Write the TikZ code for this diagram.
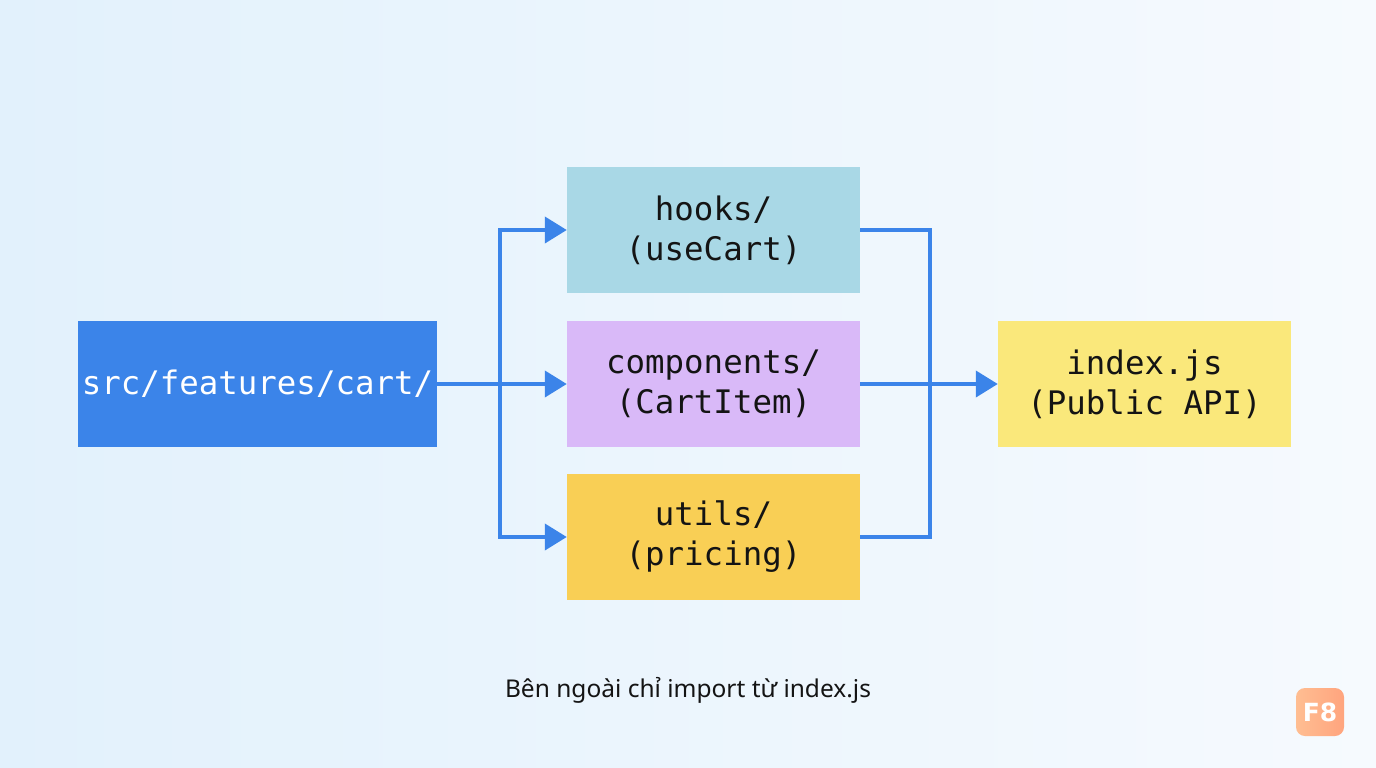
\documentclass[tikz,border=0pt]{standalone}
\usepackage{fontspec}
\setmainfont{Noto Sans}
\newfontfamily\codefont{DejaVu Sans Mono}
\newfontfamily\logofont{DejaVu Sans}
\usetikzlibrary{arrows.meta}
\definecolor{bgleft}{HTML}{E2F1FC}
\definecolor{bgright}{HTML}{F6FAFE}
\definecolor{srcblue}{HTML}{3B84E9}
\definecolor{hookblue}{HTML}{A9D8E6}
\definecolor{complav}{HTML}{D9B9F8}
\definecolor{utilyel}{HTML}{F9CF55}
\definecolor{idxyel}{HTML}{FAE87B}
\definecolor{linkblue}{HTML}{3B84E9}
\definecolor{textdark}{HTML}{141414}
\definecolor{logoA}{HTML}{FFBE92}
\definecolor{logoB}{HTML}{FFA47E}
\tikzset{
  box/.style={minimum width=293pt, minimum height=126pt, inner sep=0pt, align=center,
    font=\codefont\fontsize{32.4}{40}\selectfont, text=textdark},
  link/.style={draw=linkblue, line width=4pt},
  arr/.style={link, -{Triangle[length=22pt,width=26pt]}},
}
\begin{document}
\begin{tikzpicture}[x=1pt,y=-1pt]
\useasboundingbox (0,0) rectangle (1376,768);
\shade[left color=bgleft, right color=bgright] (0,0) rectangle (1376,768);
% nodes
\node[box, fill=srcblue, text=white, minimum width=359pt] (src) at (257.5,384) {src/features/cart/};
\node[box, fill=hookblue] (hooks) at (713.5,230) {hooks/\\(useCart)};
\node[box, fill=complav] (comp) at (713.5,384) {components/\\(CartItem)};
\node[box, fill=utilyel] (utils) at (713.5,537) {utils/\\(pricing)};
\node[box, fill=idxyel] (idx) at (1144.5,384) {index.js\\(Public API)};
\coordinate (splitL) at (500,384);
\coordinate (joinR) at (930,384);
% connectors
\draw[arr] (src.east) -- (comp.west);
\draw[arr] (splitL) |- (hooks.west);
\draw[arr] (splitL) |- (utils.west);
\draw[link] (hooks.east) -| (joinR) |- (utils.east);
\draw[arr] (comp.east) -- (idx.west);
% caption
\node[font=\fontsize{24.5}{28}\selectfont, text=textdark] (cap) at (688,690) {Bên ngoài chỉ import từ index.js};
% logo
\shade[left color=logoA, right color=logoB, rounded corners=9pt] (1296,688) rectangle (1344,736);
\node[font=\logofont\bfseries\fontsize{25}{25}\selectfont, text=white] (logo) at (1320,712) {F8};
\end{tikzpicture}
\end{document}
